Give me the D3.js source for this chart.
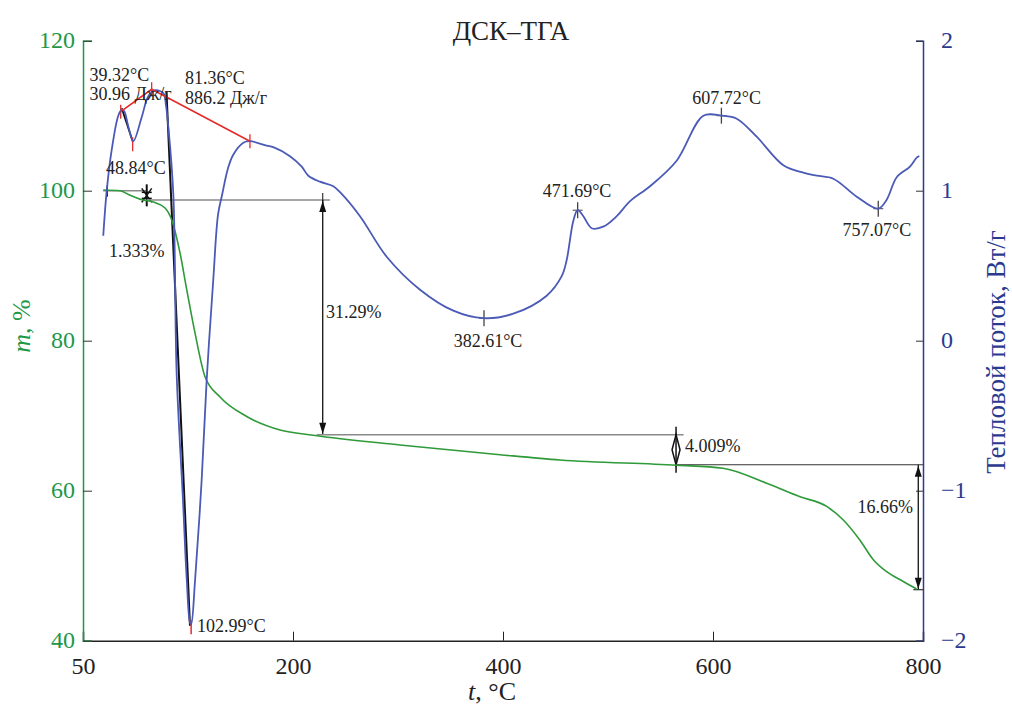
<!DOCTYPE html>
<html><head><meta charset="utf-8">
<script src="https://cdn.jsdelivr.net/npm/d3@7"></script>
<style>
body{margin:0;background:#fff;}
text{font-family:"Liberation Serif","Times New Roman",serif;}
</style></head>
<body><svg id="c" width="1012" height="709"></svg>
<script>
// ---- data ----
const xTickValues = [0, 200, 400, 600, 800];
const xTickLabels = ["50", "200", "400", "600", "800"];
const mTicks = [40, 60, 80, 100, 120];
const hfTicks = [-2, -1, 0, 1, 2];

// TGA: temperature (°C) and mass (%)
const tgaT = [19.3, 35.2, 44.8, 55.9, 67.0, 78.1, 84.5, 92.4, 98.8, 106.7, 116.2, 130.5, 155.9, 187.6, 219.3, 301.9, 397.1, 454.3, 565.4, 609.5, 651.1, 682.9, 708.3, 724.1, 740.0, 752.7, 765.4, 781.2, 794.0];
const tgaM = [100.1, 100.0, 99.4, 98.8, 98.5, 97.7, 96.1, 91.7, 86.8, 81.0, 75.2, 72.5, 69.9, 68.1, 67.4, 66.1, 64.8, 64.1, 63.4, 63.0, 61.0, 59.2, 57.9, 56.1, 53.4, 50.8, 49.2, 47.9, 46.9];

// DSC: temperature (°C) and heat flow (W/g)
const dscT = [19.3, 22.6, 27.3, 33.6, 36.9, 39.3, 43.1, 47.9, 55.9, 62.2, 68.6, 76.5, 79.0, 81.2, 86.0, 89.2, 95.2, 98.8, 101.9, 103.0, 106.7, 113.0, 117.8, 124.1, 128.6, 132.4, 138.1, 143.1, 152.7, 159.0, 175.0, 181.2, 197.1, 208.3, 214.6, 225.7, 238.4, 244.8, 263.8, 289.2, 321.0, 352.7, 381.2, 409.8, 441.6, 455.9, 460.7, 467.0, 471.1, 476.5, 484.5, 495.5, 508.3, 521.0, 540.0, 565.4, 590.8, 608.3, 622.6, 641.6, 667.0, 686.0, 698.8, 714.6, 736.9, 757.4, 765.4, 775.0, 787.6, 794.0, 796.5];
const dscV = [0.70, 1.00, 1.27, 1.50, 1.54, 1.53, 1.43, 1.33, 1.49, 1.63, 1.67, 1.65, 1.57, 1.43, 0.98, -0.22, -1.06, -1.59, -1.88, -1.89, -1.60, -0.93, -0.26, 0.41, 0.84, 0.97, 1.15, 1.24, 1.32, 1.33, 1.30, 1.29, 1.23, 1.16, 1.10, 1.06, 1.03, 0.99, 0.83, 0.56, 0.34, 0.20, 0.15, 0.18, 0.30, 0.43, 0.54, 0.80, 0.87, 0.83, 0.75, 0.76, 0.83, 0.93, 1.03, 1.20, 1.50, 1.50, 1.48, 1.36, 1.17, 1.12, 1.10, 1.08, 0.96, 0.88, 0.94, 1.09, 1.16, 1.22, 1.23];

// DSC annotations: label text, anchor temperature, anchor heat flow, alignment
const dscLabels = ["39.32°C", "30.96 Дж/г", "81.36°C", "886.2 Дж/г", "48.84°C", "1.333%", "102.99°C", "382.61°C", "471.69°C", "607.72°C", "757.07°C", "31.29%", "4.009%", "16.66%"];
const dscLabelT = [6.2, 6.2, 97.1, 97.1, 21.9, 24.8, 108.6, 385.7, 470.5, 613.0, 756.0, 231.4, 573.3, 790.5];
const dscLabelV = [1.73, 1.605, 1.71, 1.575, 1.11, 0.56, -1.94, -0.04, 0.96, 1.58, 0.70, 0.15, -0.74, -1.15];
const dscLabelAnchor = ["start", "start", "start", "start", "start", "start", "start", "middle", "middle", "middle", "middle", "start", "start", "end"];

// DSC peak markers (temperature, heat flow)
const peakT = [381.9, 471.1, 608.0, 757.4];
const peakV = [0.15, 0.87, 1.50, 0.88];
// Enthalpy integration baseline (red) vertices
const redT = [35.9, 65.4, 159.0];
const redV = [1.527, 1.676, 1.33];
const redTickT = [35.9, 47.3, 65.4, 159.0];
const redTickV = [1.527, 1.31, 1.676, 1.33];
const minT = 102.99, minV = -1.89;

// TGA step levels (mass %)
const stepM = [100.0, 98.76, 67.47, 63.46, 46.80];
const stepT = [60.7, 228.3, 564.8, 795.5];

// ---- layout ----
const svg = d3.select("#c");
const L = 83, R = 923, T = 40.7, B = 640.7;
const x = d3.scaleLinear().domain([0, 800]).range([L, R]);
const yM = d3.scaleLinear().domain([40, 120]).range([B, T]);
const yH = d3.scaleLinear().domain([-2, 2]).range([B, T]);

const green = "#1e9848", greenLine = "#2e9a3a", blue = "#2b3a8f", blueLine = "#4a5ab6", red = "#e62a2a", grey = "#8a8a8a";

// axes
const axB = d3.axisBottom(x).tickValues(xTickValues).tickFormat((d, i) => xTickLabels[i]).tickSize(-9).tickPadding(16);
const gB = svg.append("g").attr("transform", `translate(0,${B})`).call(axB);
gB.select(".domain").attr("stroke", "#222").attr("stroke-width", 1.5);
gB.selectAll(".tick line").attr("stroke", "#222");
gB.selectAll(".tick text").attr("font-size", 24).attr("fill", "#222").attr("font-family", "Liberation Serif");

const axL = d3.axisLeft(yM).tickValues(mTicks).tickSize(-9).tickPadding(8);
const gL = svg.append("g").attr("transform", `translate(${L},0)`).call(axL);
gL.select(".domain").attr("stroke", green).attr("stroke-width", 1.5);
gL.selectAll(".tick line").attr("stroke", "#333");
gL.selectAll(".tick text").attr("font-size", 24).attr("fill", green).attr("font-family", "Liberation Serif").attr("dy", "0.3em");

const axR = d3.axisRight(yH).tickValues(hfTicks).tickSize(-7).tickPadding(18).tickFormat(d => d < 0 ? "\u2212" + Math.abs(d) : d);
const gR = svg.append("g").attr("transform", `translate(${R},0)`).call(axR);
gR.select(".domain").attr("stroke", blue).attr("stroke-width", 1.5);
gR.selectAll(".tick line").attr("stroke", "#333");
gR.selectAll(".tick text").attr("font-size", 24).attr("fill", blue).attr("font-family", "Liberation Serif").attr("dy", "0.3em");

// titles
svg.append("text").attr("x", 511).attr("y", 40).attr("text-anchor", "middle").attr("font-size", 27).attr("fill", "#222").text("ДСК–ТГА");
const xl = svg.append("text").attr("x", 492).attr("y", 700).attr("text-anchor", "middle").attr("font-size", 26).attr("fill", "#222");
xl.append("tspan").attr("font-style", "italic").text("t");
xl.append("tspan").text(", °C");
const ylL = svg.append("text").attr("transform", "translate(30,326) rotate(-90)").attr("text-anchor", "middle").attr("font-size", 26).attr("fill", green);
ylL.append("tspan").attr("font-style", "italic").text("m");
ylL.append("tspan").text(", %");
svg.append("text").attr("transform", "translate(1005,352) rotate(-90)").attr("text-anchor", "middle").attr("font-size", 27).attr("fill", blue).text("Тепловой поток, Вт/г");

// TGA step annotations (grey/black lines)
const ann = svg.append("g");
function ln(x1, y1, x2, y2, c, w) { ann.append("line").attr("x1", x1).attr("y1", y1).attr("x2", x2).attr("y2", y2).attr("stroke", c).attr("stroke-width", w || 1.2); }
// first step
ln(x(19.3), yM(stepM[0]), x(stepT[0]), yM(stepM[0]), grey, 1.5);
ln(x(23.1), yM(stepM[0]) - 5, x(23.1), yM(stepM[0]) + 6, "#222", 1.5);
// star marker
const sx = x(stepT[0]), sy = (yM(stepM[0]) + yM(stepM[1])) / 2;
ln(sx, sy - 11, sx, sy + 11, "#111", 2);
ln(sx - 5, sy - 7, sx + 5, sy + 7, "#111", 1.5);
ln(sx - 5, sy + 7, sx + 5, sy - 7, "#111", 1.5);
ln(sx - 5, sy - 3, sx + 5, sy - 3, "#111", 1.5);
ln(sx - 5, sy + 3, sx + 5, sy + 3, "#111", 1.5);
// second step
ln(x(stepT[0]), yM(stepM[1]), x(235.2), yM(stepM[1]), grey, 1.5);
ln(x(stepT[1]), yM(stepM[1]) - 7, x(stepT[1]), yM(stepM[1]) + 7, "#333", 1.2);
ln(x(stepT[1]), yM(stepM[1]), x(stepT[1]), yM(stepM[2]), "#111", 1.3);
function arrowHead(px, py, dir) { // dir: -1 up, 1 down
  ann.append("path").attr("d", `M${px},${py} L${px - 3.5},${py - dir * 11} L${px + 3.5},${py - dir * 11} Z`).attr("fill", "#111");
}
arrowHead(x(stepT[1]), yM(stepM[1]) + 1, -1);
arrowHead(x(stepT[1]), yM(stepM[2]) - 1, 1);
ln(x(stepT[1]) - 6, yM(stepM[2]), x(572), yM(stepM[2]), grey, 1.5);
// third step (diamond)
ln(x(stepT[2]), yM(stepM[2]) - 8, x(stepT[2]), yM(stepM[3]) + 8, "#111", 1.5);
const dm = (yM(stepM[2]) + yM(stepM[3])) / 2;
ann.append("path").attr("d", `M${x(stepT[2])},${yM(stepM[2])} L${x(stepT[2]) - 4},${dm} L${x(stepT[2])},${yM(stepM[3])} L${x(stepT[2]) + 4},${dm} Z`).attr("fill", "none").attr("stroke", "#111").attr("stroke-width", 1.5);
ln(x(stepT[2]), yM(stepM[3]), R, yM(stepM[3]), "#333", 1.2);
// fourth step
ln(x(stepT[3]), yM(stepM[3]), x(stepT[3]), yM(stepM[4]), "#111", 1.3);
arrowHead(x(stepT[3]), yM(stepM[3]) + 1, -1);
arrowHead(x(stepT[3]), yM(stepM[4]) - 1, 1);
ln(x(stepT[3]) - 5, yM(stepM[4]), R, yM(stepM[4]), "#333", 1.2);

// curves
const tga = tgaT.map((t, i) => [t, tgaM[i]]);
const dsc = dscT.map((t, i) => [t, dscV[i]]);
svg.append("path").datum(tga).attr("fill", "none").attr("stroke", greenLine).attr("stroke-width", 1.6)
  .attr("d", d3.line().x(d => x(d[0])).y(d => yM(d[1])).curve(d3.curveMonotoneX));
svg.append("path").datum(dsc).attr("fill", "none").attr("stroke", blueLine).attr("stroke-width", 1.8)
  .attr("d", d3.line().x(d => x(d[0])).y(d => yH(d[1])).curve(d3.curveCatmullRom.alpha(0.5)));

// tangent lines on DSC
ln(x(36.9), yH(1.55), x(47.3), yH(1.33), "#111", 1.8);
ln(x(79.5), yH(1.66), x(101.9), yH(-1.90), "#111", 2);

// red integration baseline
svg.append("path").datum(redT.map((t, i) => [t, redV[i]])).attr("fill", "none").attr("stroke", red).attr("stroke-width", 1.6)
  .attr("d", d3.line().x(d => x(d[0])).y(d => yH(d[1])));
redTickT.forEach((t, i) => ln(x(t), yH(redTickV[i]) - 7, x(t), yH(redTickV[i]) + 7, red, 1.3));
ln(x(minT), yH(minV) - 4, x(minT), yH(minV) + 10, red, 1.5);

// peak markers
peakT.forEach((t, i) => {
  ln(x(t), yH(peakV[i]) - 8, x(t), yH(peakV[i]) + 8, "#444", 1.3);
  ln(x(t) - 5, yH(peakV[i]), x(t) + 5, yH(peakV[i]), "#444", 1.0);
});

// labels
dscLabels.forEach((s, i) => {
  svg.append("text").attr("x", x(dscLabelT[i])).attr("y", yH(dscLabelV[i])).attr("text-anchor", dscLabelAnchor[i])
    .attr("font-size", 18).attr("fill", "#222").text(s);
});
</script></body></html>
